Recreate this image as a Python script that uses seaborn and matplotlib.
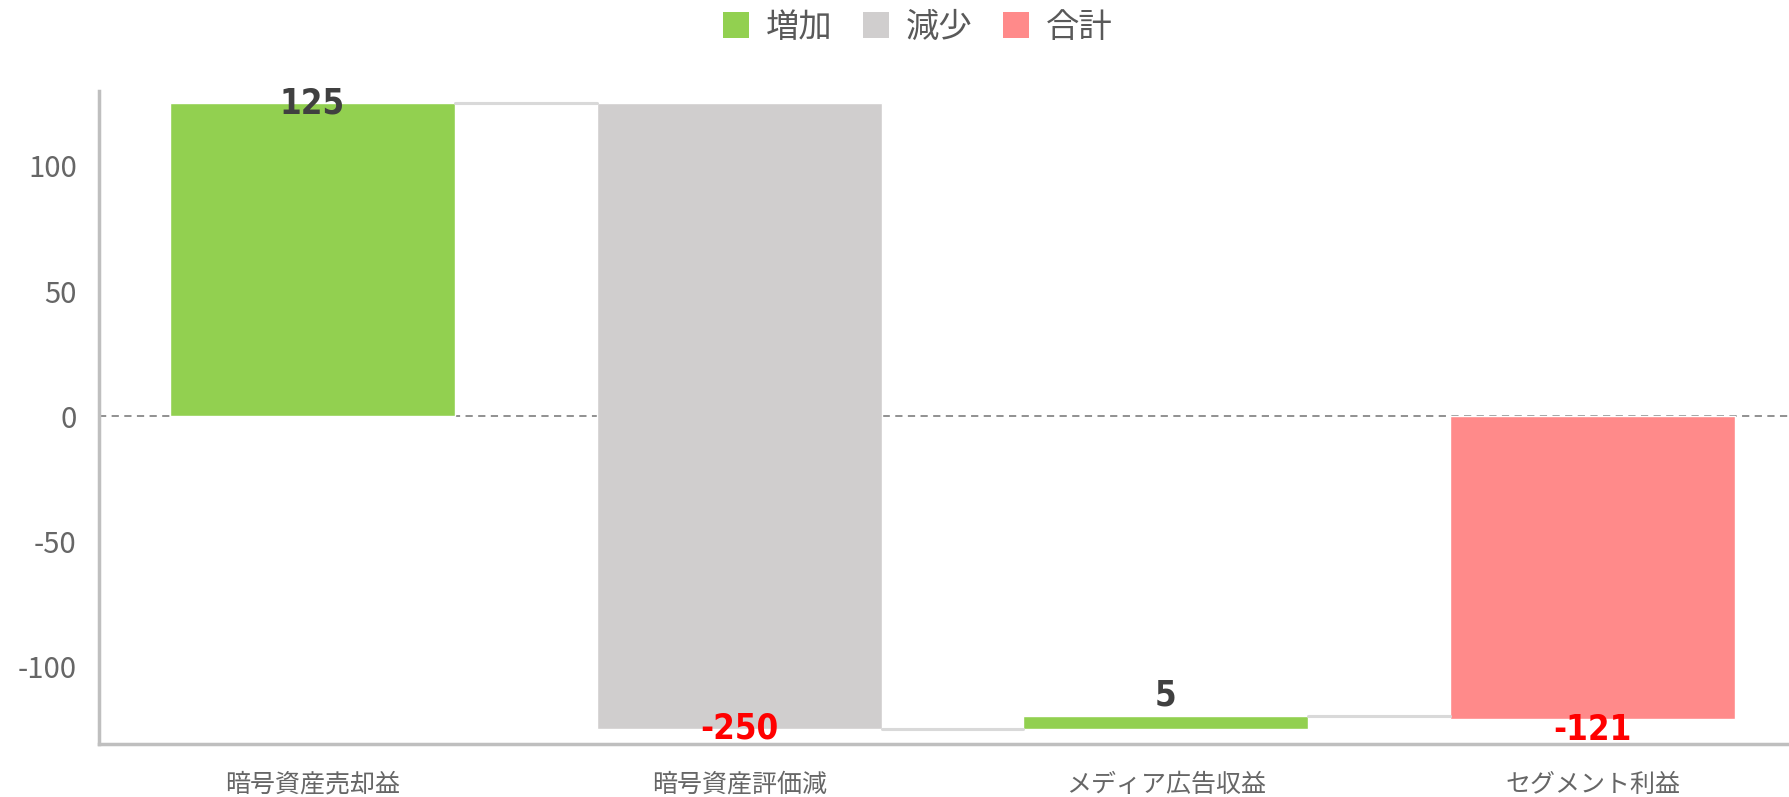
import matplotlib
matplotlib.use("Agg")
import matplotlib.pyplot as plt
from matplotlib.patches import Patch
import seaborn as sns
import pandas as pd
import numpy as np

categories = ["暗号資産売却益", "暗号資産評価減", "メディア広告収益", "セグメント利益"]
values = [125, -250, 5, -121]
kinds = ["増加", "減少", "増加", "合計"]
label_text = ["125", "-250", "5", "-121"]
yticks = [-100, -50, 0, 50, 100]

colors = {"増加": "#92d050", "減少": "#d0cece", "合計": "#ff8a8a"}

sns.set_theme(style="white")
plt.rcParams["font.family"] = ["Noto Sans CJK JP", "DejaVu Sans"]

# waterfall bottoms
bottoms = []
run = 0
for v, k in zip(values, kinds):
    if k == "合計":
        bottoms.append(0)
    else:
        bottoms.append(run)
        run += v
ends = [b + v for b, v in zip(bottoms, values)]

df = pd.DataFrame({"cat": categories, "val": values, "kind": kinds})

fig = plt.figure(figsize=(17.89, 7.97), dpi=100)
ax = fig.add_axes([0.0553, 0.0665, 0.9447, 0.8195])

width = 0.668
sns.barplot(data=df, x="cat", y="val", hue="kind", palette=colors, dodge=False,
            width=width, legend=False, ax=ax, saturation=1)

# shift bars to waterfall bottoms
for p in ax.patches:
    cx = p.get_x() + p.get_width() / 2
    i = int(round(cx))
    p.set_y(bottoms[i])
    p.set_height(values[i])

# connectors
for i in range(len(values) - 1):
    level = ends[i]
    ax.plot([i + width / 2, i + 1 - width / 2], [level, level], color="#d9d9d9", lw=2.2, zorder=1)

ax.axhline(0, color="#888888", lw=1.3, ls=(0, (4, 3)), zorder=0)

# labels
offsets = [(0, 0, "center"), (0, 0, "center"), (0, 3, "bottom"), (0, -8, "center")]
for i, (v, t) in enumerate(zip(values, label_text)):
    col = "#404040" if v > 0 else "#ff0000"
    dx, dy, va = offsets[i]
    ax.annotate(t, (i, ends[i]), xytext=(dx, dy), textcoords="offset points",
                ha="center", va=va, fontsize=25, fontweight="bold", color=col,
                family="DejaVu Sans", fontstretch="condensed", zorder=5)

ax.set_ylim(-131, 130)
ax.set_xlim(-0.5, 3.46)
ax.set_yticks(yticks)
ax.set_yticklabels([str(t) for t in yticks])
ax.set_xlabel("")
ax.set_ylabel("")
ax.tick_params(axis="y", length=0, pad=16, labelsize=21, labelcolor="#666666")
ax.tick_params(axis="x", length=0, pad=20, labelsize=18, labelcolor="#666666")

for s in ["top", "right"]:
    ax.spines[s].set_visible(False)
for s in ["left", "bottom"]:
    ax.spines[s].set_color("#bfbfbf")
    ax.spines[s].set_linewidth(2.5)

handles = [Patch(facecolor=colors[k], edgecolor="none", label=k) for k in ["増加", "減少", "合計"]]
fig.legend(handles=handles, loc="center", bbox_to_anchor=(0.513, 0.966), ncol=3,
           frameon=False, fontsize=24, handlelength=0.8, handleheight=0.8,
           handletextpad=0.5, columnspacing=0.9, labelcolor="#595959")

fig.savefig("out.png", dpi=100)
